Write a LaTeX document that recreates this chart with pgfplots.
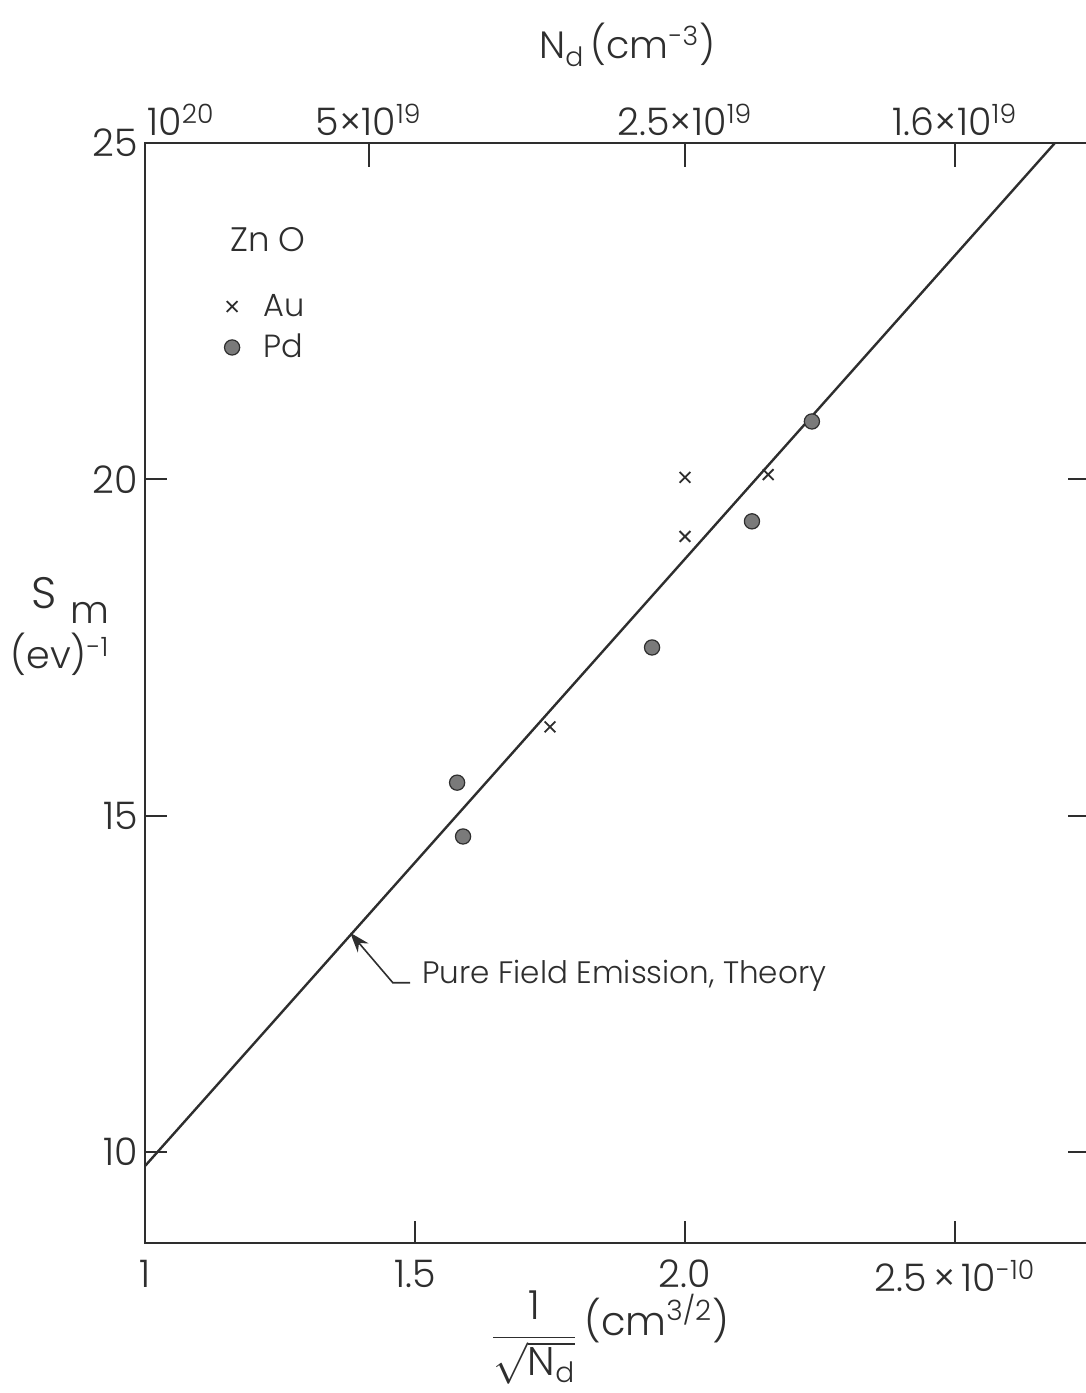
\documentclass[border=0pt]{standalone}
\usepackage{fontspec}
\setmainfont{Poppins}[UprightFont={* Light}]
\usepackage{pgfplots}
\pgfplotsset{compat=1.18}
\usetikzlibrary{arrows.meta}

\definecolor{ink}{gray}{0.18}
\definecolor{dotfill}{gray}{0.48}

\begin{document}
\begin{tikzpicture}
% main axis: S_m against 1/sqrt(N_d)
\begin{axis}[
  scale only axis, width=472.5pt, height=550pt,
  xmin=1, xmax=2.75, ymin=8.646, ymax=25,
  clip=false,
  axis line style={line width=1.3pt, ink},
  xtick={1,1.5,2,2.5},
  xticklabels={1,1.5,2.0,2.5\,×\,10\textsuperscript{-10}},
  ytick={10,15,20,25},
  xtick pos=bottom, ytick pos=both,
  tick align=inside,
  major tick length=11pt,
  major tick style={line width=1pt, ink},
  tick label style={font=\fontsize{19}{22}\selectfont, text=ink},
  /pgf/number format/assume math mode=true,
  xticklabel style={yshift=-5pt},
  legend style={at={(axis cs:1.1465,22.82)}, anchor=north west,
    draw=none, fill=none, font=\fontsize{16}{18}\selectfont, text=ink,
    row sep=3.5pt, column sep=10pt, inner sep=0pt},
  legend cell align=left,
]
% Au contacts
\addplot[only marks, mark=x, mark size=3.8pt, line width=0.9pt, ink]
  coordinates {(1.750,16.32) (2.000,19.15) (2.000,20.03) (2.154,20.07)};
\addlegendentry{Au}
% Pd contacts
\addplot[only marks, mark=*, mark size=3.8pt,
  mark options={fill=dotfill, draw=ink, line width=0.6pt}]
  coordinates {(1.578,15.49) (1.589,14.69) (1.939,17.50) (2.124,19.375) (2.235,20.86)};
\addlegendentry{Pd}
% theory line
\addplot[ink, line width=1.2pt, forget plot] coordinates {(1,9.79) (2.685,25)};

% annotation
\draw[ink, line width=0.8pt, -{Stealth[length=10pt,width=7pt]}]
  (axis cs:1.491,12.515) -- (axis cs:1.459,12.515) -- (axis cs:1.380,13.259);
\node[anchor=base west, inner sep=0pt, text=ink, font=\fontsize{15.5}{18}\selectfont]
  at (axis cs:1.513,12.50) {Pure Field Emission, Theory};

\node[anchor=west, inner sep=0pt, text=ink, font=\fontsize{17}{20}\selectfont]
  at (axis cs:1.157,23.56) {Zn O};

% axis titles
\node[anchor=east, align=right, inner sep=0pt, text=ink, font=\fontsize{19}{30}\selectfont]
  at (axis cs:0.935,17.81) {{\fontsize{22}{30}\selectfont S}\hspace{7pt}\raisebox{-0.4em}{m}\\(ev)\textsuperscript{-1}};
\node[text=ink, inner sep=0pt, font=\fontsize{20}{24}\selectfont]
  at (axis cs:1.861,7.24) {$\displaystyle\frac{\mbox{1}}{\sqrt{\mbox{N\textsubscript{d}}}}$\,\raisebox{6pt}{(cm\textsuperscript{3/2})}};
\node[text=ink, inner sep=0pt, font=\fontsize{19}{24}\selectfont]
  at (axis cs:1.893,26.46) {N\textsubscript{d}\,(cm\textsuperscript{-3})};

\coordinate (SW) at (rel axis cs:0,0);
\coordinate (NE) at (rel axis cs:1,1);
\end{axis}

% upper scale: N_d
\begin{axis}[
  scale only axis, width=472.5pt, height=550pt,
  xmin=1, xmax=2.75, ymin=8.646, ymax=25,
  axis x line*=top, axis y line=none,
  x axis line style={draw=none},
  xtick={1,1.41421,2,2.5},
  xticklabels={\hspace*{36pt}10\textsuperscript{20},5×10\textsuperscript{19},2.5×10\textsuperscript{19},1.6×10\textsuperscript{19}},
  tick align=inside,
  major tick length=12pt,
  major tick style={line width=1pt, ink},
  tick label style={font=\fontsize{19}{22}\selectfont, text=ink},
]
\end{axis}

\pgfresetboundingbox
\path[use as bounding box] ([xshift=-72.5pt,yshift=-75pt]SW) rectangle ([xshift=-2pt,yshift=71.5pt]NE);
\end{tikzpicture}
\end{document}
